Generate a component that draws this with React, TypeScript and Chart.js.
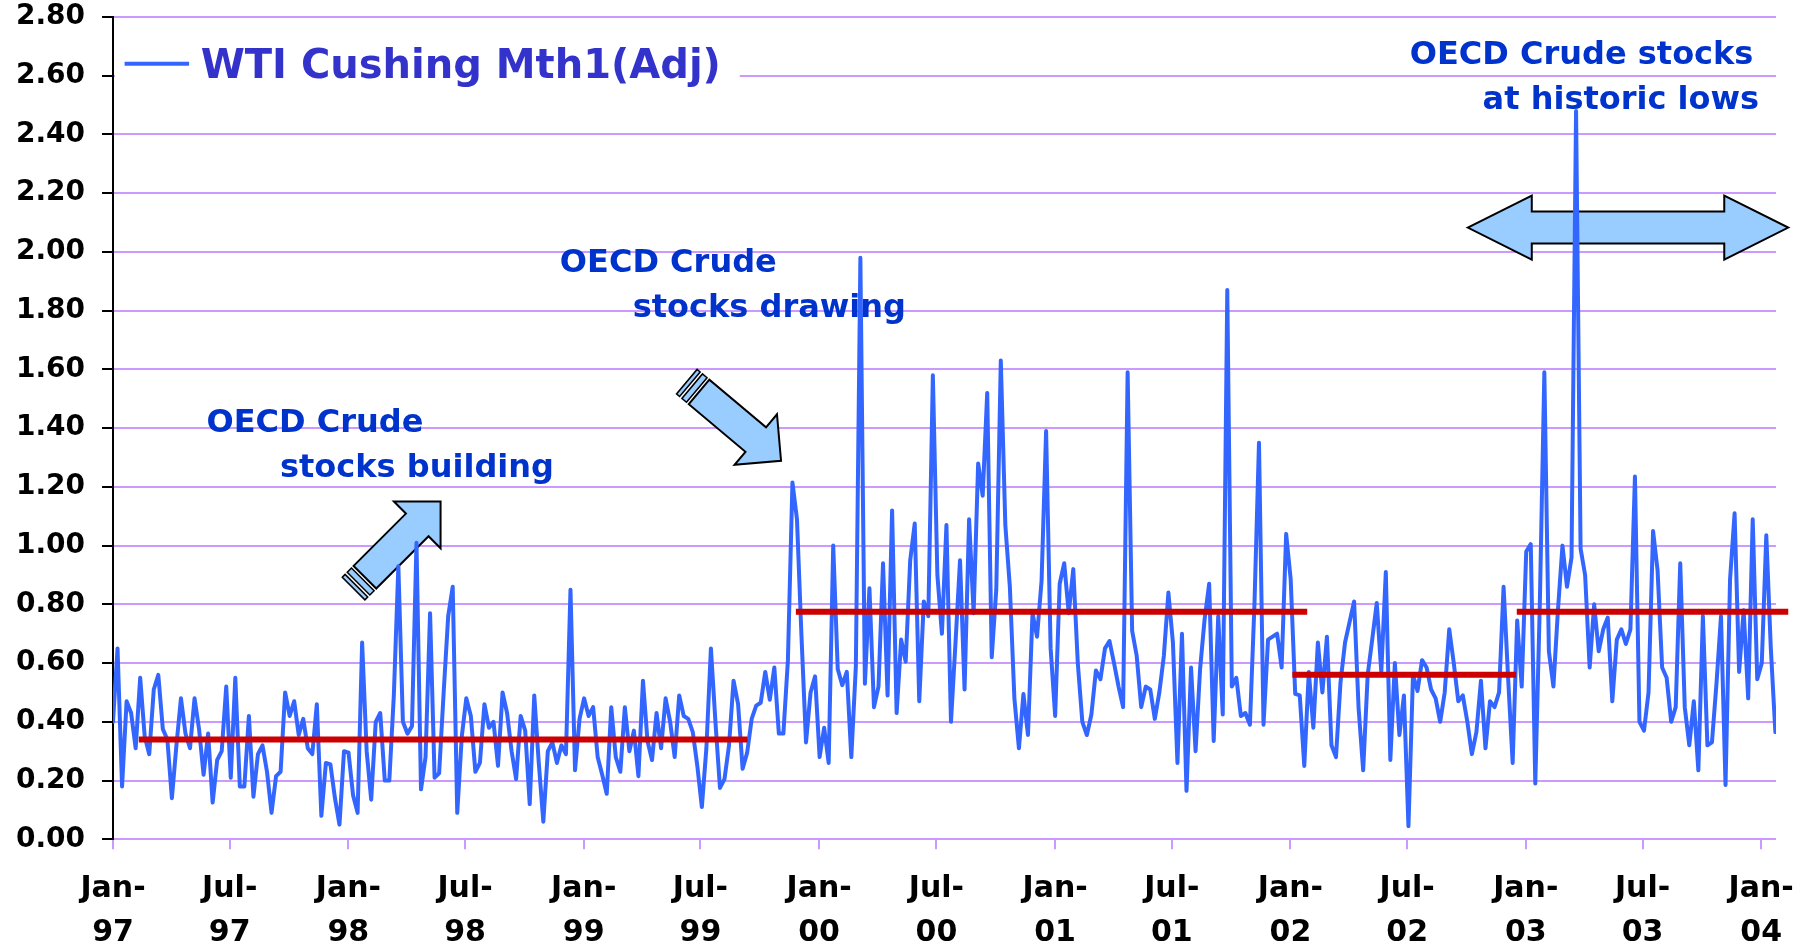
import React, { useEffect, useRef } from "react";
import { Chart, registerables } from "chart.js";

Chart.register(...registerables);

// ---- data ----
const axisStart = "1997-01-01";
const axisEnd = "2004-01-24";
const seriesStart = "1997-01-01";
const seriesEnd = "2004-01-23";

// Weekly WTI Cushing Mth1 (Adj) values
const wtiValues = [
  0.40, 0.65, 0.18, 0.47, 0.43, 0.31, 0.55, 0.35, 0.29, 0.51,
  0.56, 0.375, 0.34, 0.14, 0.32, 0.48, 0.36, 0.31, 0.48, 0.375,
  0.22, 0.36, 0.125, 0.27, 0.30, 0.52, 0.21, 0.55, 0.18, 0.18,
  0.42, 0.145, 0.29, 0.32, 0.23, 0.09, 0.215, 0.23, 0.50, 0.42,
  0.47, 0.355, 0.41, 0.31, 0.29, 0.46, 0.08, 0.26, 0.255, 0.14,
  0.05, 0.30, 0.295, 0.15, 0.09, 0.67,
  0.30, 0.135, 0.40, 0.43, 0.20, 0.20, 0.49, 0.93, 0.40, 0.36,
  0.385, 1.01, 0.17, 0.28, 0.77, 0.21, 0.225, 0.50, 0.76, 0.86,
  0.09, 0.35, 0.48, 0.42, 0.23, 0.26, 0.46, 0.38, 0.40, 0.25,
  0.50, 0.43, 0.30, 0.205, 0.42, 0.37, 0.12, 0.49, 0.26, 0.06,
  0.30, 0.33, 0.26, 0.32, 0.29, 0.85, 0.235, 0.41, 0.48, 0.42,
  0.45, 0.28, 0.22, 0.155, 0.45,
  0.28, 0.23, 0.45, 0.30, 0.37, 0.215, 0.54, 0.335, 0.27, 0.43,
  0.31, 0.48, 0.40, 0.28, 0.49, 0.42, 0.41, 0.365, 0.25, 0.11,
  0.31, 0.65, 0.40, 0.175, 0.205, 0.32, 0.54, 0.46, 0.24, 0.295,
  0.41, 0.455, 0.465, 0.57, 0.475, 0.585, 0.36, 0.36, 0.61, 1.215,
  1.09, 0.69, 0.33, 0.50, 0.555, 0.28, 0.38, 0.26, 1.00, 0.58,
  0.525, 0.57, 0.28, 0.59, 1.98, 0.53,
  0.855, 0.45, 0.52, 0.94, 0.49, 1.12, 0.43, 0.68, 0.605, 0.95,
  1.075, 0.47, 0.81, 0.76, 1.58, 0.90, 0.70, 1.07, 0.40, 0.67,
  0.95, 0.51, 1.09, 0.77, 1.28, 1.17, 1.52, 0.62, 0.85, 1.63,
  1.07, 0.86, 0.48, 0.31, 0.495, 0.355, 0.77, 0.69, 0.88, 1.39,
  0.65, 0.42, 0.87, 0.94, 0.77, 0.92, 0.60, 0.40, 0.355, 0.425,
  0.575, 0.545, 0.65, 0.675, 0.60, 0.52,
  0.45, 1.59, 0.71, 0.625, 0.45, 0.52, 0.51, 0.41, 0.50, 0.625,
  0.84, 0.67, 0.26, 0.70, 0.165, 0.585, 0.30, 0.58, 0.75, 0.87,
  0.335, 0.76, 0.425, 1.87, 0.52, 0.55, 0.42, 0.43, 0.39, 0.80,
  1.35, 0.39, 0.68, 0.69, 0.70, 0.585, 1.04, 0.885, 0.495, 0.49,
  0.25, 0.57, 0.38, 0.67, 0.50, 0.69, 0.32, 0.28, 0.535, 0.67,
  0.74, 0.81, 0.445, 0.235, 0.56,
  0.68, 0.805, 0.57, 0.91, 0.27, 0.60, 0.355, 0.49, 0.045, 0.56,
  0.505, 0.61, 0.585, 0.51, 0.48, 0.40, 0.50, 0.715, 0.60, 0.47,
  0.49, 0.40, 0.29, 0.365, 0.54, 0.31, 0.47, 0.45, 0.50, 0.86,
  0.55, 0.26, 0.745, 0.52, 0.98, 1.005, 0.19, 0.80, 1.59, 0.64,
  0.52, 0.78, 1.00, 0.86, 0.96, 2.48, 0.99, 0.90, 0.585, 0.80,
  0.64, 0.715, 0.755, 0.47,
  0.68, 0.715, 0.665, 0.715, 1.235, 0.40, 0.37, 0.50, 1.05, 0.915,
  0.585, 0.55, 0.40, 0.45, 0.94, 0.45, 0.32, 0.47, 0.235, 0.76,
  0.32, 0.33, 0.53, 0.76, 0.185, 0.885, 1.11, 0.57, 0.78, 0.48,
  1.09, 0.545, 0.60, 1.035, 0.65, 0.365,
];

// Period averages (red bars)
const avgStarts = ["1997-02-10", "1999-11-26", "2002-01-04", "2002-12-18"];
const avgEnds = ["1999-09-12", "2002-01-27", "2002-12-17", "2004-02-12"];
const avgValues = [0.34, 0.775, 0.56, 0.775];

// X tick dates / labels
const tickDates = [
  "1997-01-01", "1997-07-01", "1998-01-01", "1998-07-01", "1999-01-01",
  "1999-07-01", "2000-01-01", "2000-07-01", "2001-01-01", "2001-07-01",
  "2002-01-01", "2002-07-01", "2003-01-01", "2003-07-01", "2004-01-01",
];
const tickLabels = [
  ["Jan-", "97"], ["Jul-", "97"], ["Jan-", "98"], ["Jul-", "98"], ["Jan-", "99"],
  ["Jul-", "99"], ["Jan-", "00"], ["Jul-", "00"], ["Jan-", "01"], ["Jul-", "01"],
  ["Jan-", "02"], ["Jul-", "02"], ["Jan-", "03"], ["Jul-", "03"], ["Jan-", "04"],
];

const yMin = 0;
const yMax = 2.8;
const yStep = 0.2;

const seriesLabel = "WTI Cushing Mth1(Adj)";
const noteBuilding = ["OECD Crude", "stocks building"];
const noteDrawing = ["OECD Crude", "stocks drawing"];
const noteLows = ["OECD Crude stocks", "at historic lows"];

// ---- helpers ----
const DAY = 86400000;
const dayOf = (s: string) => (Date.parse(s) - Date.parse(axisStart)) / DAY;

const FONT = "'DejaVu Sans', 'Liberation Sans', sans-serif";

// annotation placement (in data coordinates: day, value)
const annotationLayout = {
  legend: { box: [3, 972, 2.739, 2.517], swatch: [18, 118, 2.641], text: [136, 2.592] },
  building: [[145, 1.388], [259, 1.235]],
  drawing: [[693, 1.932], [806, 1.779]],
  lows: [[2011, 2.64], [2124, 2.487]],
  arrowUp: { tip: [508, 1.15], angle: -45 },
  arrowDown: { tip: [1036, 1.289], angle: 40 },
  doubleArrow: { from: 2101, to: 2598, y: 2.083 },
};

function polygon(ctx: CanvasRenderingContext2D, pts: number[][]) {
  ctx.beginPath();
  ctx.moveTo(pts[0][0], pts[0][1]);
  for (let i = 1; i < pts.length; i++) ctx.lineTo(pts[i][0], pts[i][1]);
  ctx.closePath();
  ctx.fill();
  ctx.stroke();
}

function blockArrow(ctx: CanvasRenderingContext2D, tx: number, ty: number, angleDeg: number) {
  const a = (angleDeg * Math.PI) / 180;
  const dx = Math.cos(a), dy = Math.sin(a);
  const nx = -dy, ny = dx;
  const P = (u: number, v: number) => [tx + u * dx + v * nx, ty + u * dy + v * ny];
  const H = 33, W = 33, S = 16, L = 107;
  ctx.fillStyle = "#99CCFF";
  ctx.strokeStyle = "#000";
  ctx.lineWidth = 2;
  ctx.lineJoin = "miter";
  polygon(ctx, [P(0, 0), P(-H, -W), P(-H, -S), P(-L, -S), P(-L, S), P(-H, S), P(-H, W)]);
  ctx.lineWidth = 1.5;
  const bands = [[-110, -116], [-119, -123]];
  for (const [u1, u2] of bands) {
    polygon(ctx, [P(u1, -S), P(u2, -S), P(u2, S), P(u1, S)]);
  }
}

function doubleArrow(ctx: CanvasRenderingContext2D, x1: number, x2: number, cy: number) {
  const HL = 64, HW = 32, SW = 16;
  ctx.fillStyle = "#99CCFF";
  ctx.strokeStyle = "#000";
  ctx.lineWidth = 2;
  ctx.lineJoin = "miter";
  polygon(ctx, [
    [x1, cy], [x1 + HL, cy - HW], [x1 + HL, cy - SW], [x2 - HL, cy - SW], [x2 - HL, cy - HW],
    [x2, cy], [x2 - HL, cy + HW], [x2 - HL, cy + SW], [x1 + HL, cy + SW], [x1 + HL, cy + HW],
  ]);
}

const annotationsPlugin = {
  id: "annotations",
  beforeDatasetsDraw(chart: any) {
    const ctx: CanvasRenderingContext2D = chart.ctx;
    const xs = chart.scales.x, ys = chart.scales.y;
    const px = (d: number) => xs.getPixelForValue(d);
    const py = (v: number) => ys.getPixelForValue(v);
    const A = annotationLayout;
    ctx.save();

    // legend box
    const [bx1, bx2, by1, by2] = A.legend.box;
    ctx.fillStyle = "#FFFFFF";
    ctx.fillRect(px(bx1), py(by1), px(bx2) - px(bx1), py(by2) - py(by1));
    ctx.strokeStyle = "#3366FF";
    ctx.lineWidth = 4;
    ctx.beginPath();
    ctx.moveTo(px(A.legend.swatch[0]), py(A.legend.swatch[2]));
    ctx.lineTo(px(A.legend.swatch[1]), py(A.legend.swatch[2]));
    ctx.stroke();
    ctx.fillStyle = "#3333CC";
    ctx.font = `bold 40px ${FONT}`;
    ctx.textBaseline = "alphabetic";
    ctx.textAlign = "left";
    ctx.fillText(seriesLabel, px(A.legend.text[0]), py(A.legend.text[1]));

    // arrows
    blockArrow(ctx, px(A.arrowUp.tip[0]), py(A.arrowUp.tip[1]), A.arrowUp.angle);
    blockArrow(ctx, px(A.arrowDown.tip[0]), py(A.arrowDown.tip[1]), A.arrowDown.angle);
    doubleArrow(ctx, px(A.doubleArrow.from), px(A.doubleArrow.to), py(A.doubleArrow.y));

    // notes
    ctx.fillStyle = "#0033CC";
    ctx.font = `bold 32px ${FONT}`;
    const drawNote = (lines: string[], pos: number[][]) => {
      lines.forEach((t, i) => ctx.fillText(t, px(pos[i][0]), py(pos[i][1])));
    };
    drawNote(noteBuilding, A.building);
    drawNote(noteDrawing, A.drawing);
    drawNote(noteLows, A.lows);
    ctx.restore();
  },
};

export default function App() {
  const ref = useRef<HTMLCanvasElement | null>(null);

  useEffect(() => {
    if (!ref.current) return;
    Chart.defaults.font.family = FONT;
    const d0 = dayOf(seriesStart);
    const d1 = dayOf(seriesEnd);
    const n = wtiValues.length;
    const wtiPoints = wtiValues.map((v, i) => ({ x: d0 + (i * (d1 - d0)) / (n - 1), y: v }));

    const avgSets = avgValues.map((v, i) => ({
      label: "avg" + i,
      data: [
        { x: dayOf(avgStarts[i]), y: v },
        { x: dayOf(avgEnds[i]), y: v },
      ],
      borderColor: "#CC0000",
      backgroundColor: "#CC0000",
      borderWidth: 6,
      borderCapStyle: "butt",
      pointRadius: 0,
      fill: false,
      clip: false,
      order: 0,
    }));

    const chart = new Chart(ref.current, {
      type: "line",
      data: {
        datasets: [
          {
            label: seriesLabel,
            data: wtiPoints,
            borderColor: "#3366FF",
            backgroundColor: "#3366FF",
            borderWidth: 4,
            borderJoinStyle: "round",
            borderCapStyle: "round",
            pointRadius: 0,
            tension: 0,
            fill: false,
            order: 1,
          },
          ...avgSets,
        ],
      } as any,
      options: {
        animation: false,
        responsive: false,
        layout: { padding: { left: 0, right: 38, top: 17, bottom: 0 } },
        plugins: { legend: { display: false }, tooltip: { enabled: false } },
        scales: {
          x: {
            type: "linear",
            min: dayOf(axisStart),
            max: dayOf(axisEnd),
            afterBuildTicks: (s: any) => {
              s.ticks = tickDates.map((d) => ({ value: dayOf(d) }));
            },
            afterFit: (s: any) => {
              s.height = 104.7;
            },
            ticks: {
              autoSkip: false,
              maxRotation: 0,
              minRotation: 0,
              padding: 18,
              color: "#000",
              font: { size: 30, weight: "bold", family: FONT, lineHeight: 1.4667 },
              callback: (_v: any, i: number) => tickLabels[i],
            },
            grid: {
              drawOnChartArea: false,
              color: "#CC99FF",
              tickColor: "#CC99FF",
              tickLength: 10,
              lineWidth: 2,
            },
            border: { display: false },
          },
          y: {
            min: yMin,
            max: yMax,
            afterFit: (s: any) => {
              s.width = 113;
              s.paddingTop = 0;
              s.paddingBottom = 0;
            },
            ticks: {
              stepSize: yStep,
              padding: 17,
              color: "#000",
              font: { size: 28, weight: "bold", family: FONT },
              callback: (v: any) => Number(v).toFixed(2),
            },
            grid: { color: "#CC99FF", lineWidth: 2, tickColor: "#000", tickLength: 11 },
            border: { color: "#000", width: 2 },
          },
        },
      } as any,
      plugins: [annotationsPlugin],
    });
    return () => chart.destroy();
  }, []);

  return (
    <div style={{ position: "fixed", left: 0, top: 0, width: 1814, height: 944, background: "#fff" }}>
      <canvas ref={ref} width={1814} height={944} style={{ display: "block" }} />
    </div>
  );
}
